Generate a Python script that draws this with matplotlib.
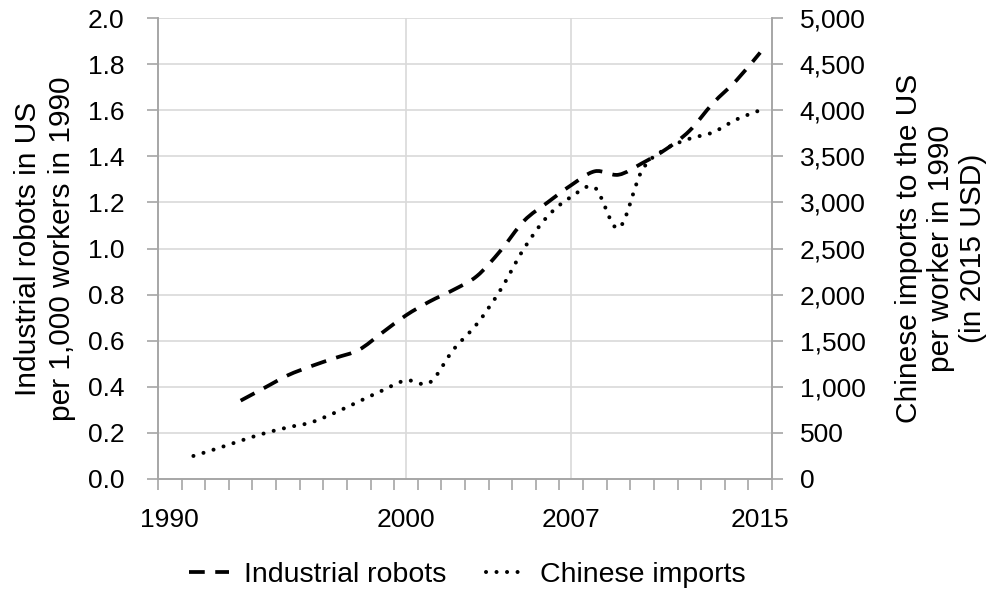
import matplotlib
matplotlib.use("Agg")
import matplotlib.pyplot as plt
from matplotlib.path import Path
from matplotlib.patches import PathPatch
from matplotlib.lines import Line2D
from matplotlib.ticker import FixedLocator, FuncFormatter

plt.rcParams['font.family'] = ['Liberation Sans', 'DejaVu Sans']

# ---- data ----
robot_years = list(range(1993, 2016))
robots = [0.34, 0.395, 0.45, 0.49, 0.525, 0.56, 0.635, 0.71, 0.77, 0.82, 0.88,
          0.99, 1.12, 1.20, 1.275, 1.335, 1.32, 1.37, 1.43, 1.51, 1.63, 1.73, 1.85]

import_years = list(range(1991, 2016))
imports = [250, 330, 415, 495, 560, 615, 720, 840, 960, 1070, 1045, 1400, 1680,
           2050, 2500, 2850, 3060, 3160, 2720, 3350, 3580, 3690, 3760, 3900, 4000]

xtick_years = [1990, 2000, 2007, 2015]
left_ticks = [0.0, 0.2, 0.4, 0.6, 0.8, 1.0, 1.2, 1.4, 1.6, 1.8, 2.0]
right_ticks = [0, 500, 1000, 1500, 2000, 2500, 3000, 3500, 4000, 4500, 5000]


def smooth_path(x, y):
    """Excel-style smoothed line as cubic Bezier segments."""
    n = len(x)
    verts = [(x[0], y[0])]
    codes = [Path.MOVETO]
    for i in range(n - 1):
        x0, y0 = x[max(i - 1, 0)], y[max(i - 1, 0)]
        x1, y1 = x[i], y[i]
        x2, y2 = x[i + 1], y[i + 1]
        x3, y3 = x[min(i + 2, n - 1)], y[min(i + 2, n - 1)]
        c1 = (x1 + (x2 - x0) / 6.0, y1 + (y2 - y0) / 6.0)
        c2 = (x2 - (x3 - x1) / 6.0, y2 - (y3 - y1) / 6.0)
        verts += [c1, c2, (x2, y2)]
        codes += [Path.CURVE4] * 3
    return Path(verts, codes)


fig = plt.figure(figsize=(9.95, 5.92), dpi=100)
ax = fig.add_axes([158 / 995, 1 - 479 / 592, 614 / 995, 461 / 592])
ax2 = ax.twinx()

spine_c = '#a6a6a6'
grid_c = '#d9d9d9'

# gridlines
for v in left_ticks[1:]:
    ax.axhline(v, color=grid_c, lw=1.2, zorder=0)
for yr in [2000, 2007]:
    ax.axvline(yr, color=grid_c, lw=1.2, zorder=0)

dash_style = (0, (4.2, 2.8))
dot_style = (0, (0.01, 2.6))

p1 = PathPatch(smooth_path(robot_years, robots), fill=False, edgecolor='black',
               lw=2.7, linestyle=dash_style, capstyle='butt', zorder=3)
ax.add_patch(p1)
p2 = PathPatch(smooth_path(import_years, imports), fill=False, edgecolor='black',
               lw=2.9, linestyle=dot_style, capstyle='round', zorder=3)
ax2.add_patch(p2)

ax.set_xlim(1989.5, 2015.5)
ax.set_ylim(0, 2.0)
ax2.set_ylim(0, 5000)

# spines
for a in (ax, ax2):
    a.spines['top'].set_visible(False)
    for s in ('left', 'right', 'bottom'):
        a.spines[s].set_color(spine_c)
        a.spines[s].set_linewidth(1.2)

# x axis
ax.xaxis.set_major_locator(FixedLocator(xtick_years))
ax.xaxis.set_minor_locator(FixedLocator([1989.5 + k for k in range(27)]))
ax.set_xticklabels([str(y) for y in xtick_years])
ax.tick_params(axis='x', which='major', length=0, pad=21, labelsize=19)
ax.tick_params(axis='x', which='minor', length=8, width=1.2, color=spine_c, direction='out')

# left y
ax.yaxis.set_major_locator(FixedLocator(left_ticks))
ax.yaxis.set_major_formatter(FuncFormatter(lambda v, p: f"{v:.1f}"))
ax.tick_params(axis='y', which='major', length=8, width=1.2, color=spine_c, pad=16, labelsize=19)

# right y
ax2.yaxis.set_major_locator(FixedLocator(right_ticks))
ax2.yaxis.set_major_formatter(FuncFormatter(lambda v, p: f"{int(v):,}"))
ax2.tick_params(axis='y', which='major', length=8, width=1.2, color=spine_c, pad=12, labelsize=19)

# axis titles
fig.text(45 / 995, 1 - 248.5 / 592, "Industrial robots in US\nper 1,000 workers in 1990",
         rotation=90, ha='center', va='center', multialignment='center',
         fontsize=21.5, linespacing=1.25)
fig.text(941 / 995, 1 - 248.5 / 592, "Chinese imports to the US\nper worker in 1990\n(in 2015 USD)",
         rotation=90, ha='center', va='center', multialignment='center',
         fontsize=21.5, linespacing=1.2)

# legend
h1 = Line2D([], [], color='black', lw=2.7, linestyle=dash_style, dash_capstyle='butt')
h2 = Line2D([], [], color='black', lw=2.9, linestyle=dot_style, dash_capstyle='round')
fig.legend([h1, h2], ["Industrial robots", "Chinese imports"], loc='center',
           bbox_to_anchor=(467.5 / 995, 1 - 575 / 592), ncol=2, frameon=False,
           fontsize=20.5, handlelength=1.4, handletextpad=0.5, columnspacing=1.4,
           borderpad=0.0)

fig.savefig("out.png", dpi=100)
